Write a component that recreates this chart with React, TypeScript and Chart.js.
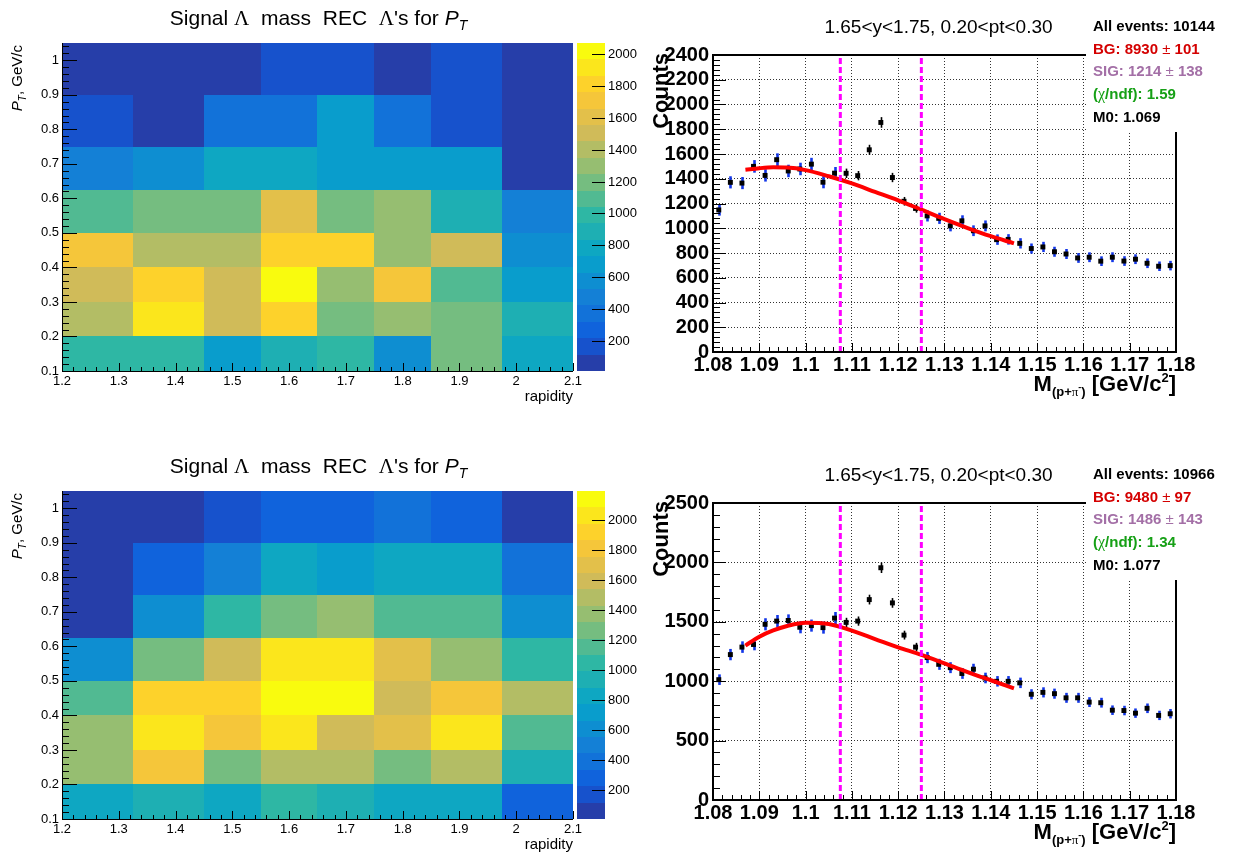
import React, { useEffect, useRef } from 'react';
import { Chart, registerables } from 'chart.js';
Chart.register(...registerables);

const SANS = '"Liberation Sans", Arial, Helvetica, sans-serif';
const SERIF = '"Liberation Serif", "DejaVu Serif", "Times New Roman", serif';
Chart.defaults.font.family = SANS;

// ---------------- heatmap data ----------------
const rapidityEdges = [1.2, 1.325, 1.45, 1.55, 1.65, 1.75, 1.85, 1.975, 2.1];
const ptEdges = [0.1, 0.2, 0.3, 0.4, 0.5, 0.625, 0.75, 0.9, 1.05];
const rapidityTicks = [1.2, 1.3, 1.4, 1.5, 1.6, 1.7, 1.8, 1.9, 2.0, 2.1];
const ptTicks = [0.1, 0.2, 0.3, 0.4, 0.5, 0.6, 0.7, 0.8, 0.9, 1.0];
const colorbarTicks = [200, 400, 600, 800, 1000, 1200, 1400, 1600, 1800, 2000];

// rows: pt bins (low -> high), columns: rapidity bins
const signalTop = [
  [989, 989, 680, 886, 989, 577, 1195, 783],
  [1401, 1916, 1504, 1813, 1195, 1298, 1195, 886],
  [1504, 1813, 1504, 2070, 1298, 1710, 1092, 680],
  [1710, 1401, 1401, 1813, 1813, 1298, 1504, 577],
  [1092, 1195, 1195, 1607, 1195, 1298, 886, 475],
  [475, 577, 783, 783, 680, 680, 680, 60],
  [165, 60, 370, 370, 680, 370, 165, 60],
  [60, 60, 60, 165, 165, 60, 165, 60],
];
const signalBottom = [
  [828, 937, 828, 1046, 937, 828, 828, 283],
  [1373, 1809, 1264, 1482, 1482, 1264, 1482, 937],
  [1373, 2027, 1809, 2027, 1591, 1700, 2027, 1155],
  [1155, 1918, 1918, 2190, 2150, 1591, 1809, 1482],
  [610, 1264, 1591, 2027, 2027, 1700, 1373, 1046],
  [65, 610, 1046, 1264, 1373, 1155, 1155, 610],
  [65, 283, 500, 828, 719, 828, 828, 392],
  [65, 65, 174, 283, 283, 392, 283, 65],
];
const zRangeTop = [10, 2070];
const zRangeBottom = [7, 2190];

// ---------------- invariant mass data ----------------
const massBins = [
  1.08125, 1.08375, 1.08625, 1.08875, 1.09125, 1.09375, 1.09625, 1.09875, 1.10125, 1.10375,
  1.10625, 1.10875, 1.11125, 1.11375, 1.11625, 1.11875, 1.12125, 1.12375, 1.12625, 1.12875,
  1.13125, 1.13375, 1.13625, 1.13875, 1.14125, 1.14375, 1.14625, 1.14875, 1.15125, 1.15375,
  1.15625, 1.15875, 1.16125, 1.16375, 1.16625, 1.16875, 1.17125, 1.17375, 1.17625, 1.17875,
];
const countsTop = [
  1148, 1371, 1365, 1500, 1427, 1554, 1463, 1479, 1518, 1372,
  1445, 1444, 1425, 1634, 1855, 1410, 1218, 1160, 1100, 1080,
  1019, 1060, 980, 1019, 908, 910, 878, 836, 849, 810,
  792, 760, 766, 734, 766, 735, 750, 717, 693, 698,
];
const countsBottom = [
  1013, 1224, 1287, 1309, 1479, 1506, 1511, 1454, 1468, 1451,
  1531, 1495, 1506, 1687, 1955, 1659, 1388, 1287, 1199, 1142,
  1114, 1065, 1101, 1027, 999, 999, 986, 890, 906, 895,
  860, 860, 824, 819, 756, 753, 731, 772, 712, 726,
];
const fitMass = [1.087, 1.09, 1.093, 1.096, 1.1, 1.105, 1.11, 1.115, 1.12, 1.125, 1.13, 1.135, 1.14, 1.145];
const fitTop = [1472, 1485, 1492, 1490, 1470, 1420, 1362, 1294, 1226, 1150, 1074, 1002, 936, 878];
const fitBottom = [1300, 1375, 1428, 1465, 1492, 1482, 1425, 1355, 1285, 1222, 1150, 1077, 1008, 940];
const massTicks = [1.08, 1.09, 1.1, 1.11, 1.12, 1.13, 1.14, 1.15, 1.16, 1.17, 1.18];
const countTicksTop = [0, 200, 400, 600, 800, 1000, 1200, 1400, 1600, 1800, 2000, 2200, 2400];
const countTicksBottom = [0, 500, 1000, 1500, 2000, 2500];
const windowLo = 1.1075;
const windowHi = 1.125;
const massTitle = '1.65<y<1.75, 0.20<pt<0.30';
const statsTop = { all: '10144', bg: '8930', bgErr: '101', sig: '1214', sigErr: '138', chi: '1.59', m0: '1.069' };
const statsBottom = { all: '10966', bg: '9480', bgErr: '97', sig: '1486', sigErr: '143', chi: '1.34', m0: '1.077' };

// ---------------- helpers ----------------
type Seg = { t: string; f: string; dy?: number; c?: string };
function richWidth(ctx: CanvasRenderingContext2D, segs: Seg[]) {
  let w = 0;
  for (const s of segs) { ctx.font = s.f; w += ctx.measureText(s.t).width; }
  return w;
}
function drawRich(ctx: CanvasRenderingContext2D, segs: Seg[], x: number, y: number, align: 'left' | 'center' | 'right') {
  const w = richWidth(ctx, segs);
  let cx = align === 'left' ? x : align === 'center' ? x - w / 2 : x - w;
  ctx.textAlign = 'left';
  ctx.textBaseline = 'alphabetic';
  for (const s of segs) {
    ctx.font = s.f;
    ctx.fillStyle = s.c || '#000';
    ctx.fillText(s.t, cx, y + (s.dy || 0));
    cx += ctx.measureText(s.t).width;
  }
}
function line(ctx: CanvasRenderingContext2D, x0: number, y0: number, x1: number, y1: number) {
  ctx.beginPath(); ctx.moveTo(x0, y0); ctx.lineTo(x1, y1); ctx.stroke();
}
const fmt = (v: any) => String(+Number(v).toFixed(3));

const birdStops = [0, 0.125, 0.25, 0.375, 0.5, 0.625, 0.75, 0.875, 1];
const birdR = [0.2082, 0.0592, 0.0780, 0.0232, 0.1802, 0.5301, 0.8186, 0.9956, 0.9764];
const birdG = [0.1664, 0.3599, 0.5041, 0.6419, 0.7178, 0.7492, 0.7328, 0.7862, 0.9832];
const birdB = [0.5293, 0.8684, 0.8385, 0.7914, 0.6425, 0.4662, 0.3499, 0.1968, 0.0539];
function bird(f: number) {
  f = Math.max(0, Math.min(1, f));
  let i = 0;
  while (i < 7 && f > birdStops[i + 1]) i++;
  const t = (f - birdStops[i]) / (birdStops[i + 1] - birdStops[i]);
  const ch = (a: number[]) => Math.round(255 * (a[i] + (a[i + 1] - a[i]) * t));
  return `rgb(${ch(birdR)},${ch(birdG)},${ch(birdB)})`;
}
const NLEVELS = 20;
function levelColor(v: number, zmin: number, zmax: number) {
  let b = Math.floor(((v - zmin) / (zmax - zmin)) * NLEVELS);
  b = Math.max(0, Math.min(NLEVELS - 1, b));
  return bird((b + 0.99) / NLEVELS);
}

// ---------------- heatmap panel ----------------
function HeatPanel({ top, values, zr }: { top: number; values: number[][]; zr: number[] }) {
  const ref = useRef<HTMLCanvasElement>(null);
  useEffect(() => {
    const [zmin, zmax] = zr;
    const cells: any[] = [];
    values.forEach((row, r) =>
      row.forEach((v, c) =>
        cells.push({
          x: (rapidityEdges[c] + rapidityEdges[c + 1]) / 2,
          y: (ptEdges[r] + ptEdges[r + 1]) / 2,
          v, x0: rapidityEdges[c], x1: rapidityEdges[c + 1], y0: ptEdges[r], y1: ptEdges[r + 1],
        })
      )
    );
    const plugin = {
      id: 'heatCells',
      beforeDatasetsDraw(chart: any) {
        const { ctx, scales: { x, y } } = chart;
        ctx.save();
        for (const c of chart.data.datasets[0].data) {
          const px0 = Math.round(x.getPixelForValue(c.x0));
          const px1 = Math.round(x.getPixelForValue(c.x1));
          const py0 = Math.round(y.getPixelForValue(c.y0));
          const py1 = Math.round(y.getPixelForValue(c.y1));
          ctx.fillStyle = levelColor(c.v, zmin, zmax);
          ctx.fillRect(px0, py1, px1 - px0, py0 - py1);
        }
        ctx.restore();
      },
      afterDraw(chart: any) {
        const { ctx, chartArea: a, scales: { x, y } } = chart;
        ctx.save();
        ctx.strokeStyle = '#000';
        ctx.lineWidth = 1;
        line(ctx, a.left + 0.5, a.top, a.left + 0.5, a.bottom + 0.5);
        line(ctx, a.left, a.bottom + 0.5, a.right, a.bottom + 0.5);
        for (let k = 10; k <= 105; k += 2) {
          const py = Math.round(y.getPixelForValue(k / 100)) + 0.5;
          line(ctx, a.left, py, a.left + (k % 10 === 0 ? 15 : 7), py);
        }
        for (let k = 120; k <= 210; k += 2) {
          const px = Math.round(x.getPixelForValue(k / 100)) + 0.5;
          line(ctx, px, a.bottom, px, a.bottom - (k % 10 === 0 ? 8 : 4));
        }
        // color bar
        const cbL = a.right + 4, cbR = a.right + 32;
        const H = a.bottom - a.top;
        for (let b = 0; b < NLEVELS; b++) {
          const yb = a.bottom - (b / NLEVELS) * H;
          const yt = a.bottom - ((b + 1) / NLEVELS) * H;
          ctx.fillStyle = bird((b + 0.99) / NLEVELS);
          ctx.fillRect(cbL, Math.round(yt), cbR - cbL, Math.round(yb) - Math.round(yt));
        }
        ctx.fillStyle = '#000';
        ctx.font = `13px ${SANS}`;
        ctx.textAlign = 'left';
        ctx.textBaseline = 'middle';
        for (const t of colorbarTicks) {
          const py = Math.round(a.bottom - ((t - zmin) / (zmax - zmin)) * H) + 0.5;
          line(ctx, cbR - 13, py, cbR, py);
          ctx.fillText(String(t), cbR + 3, py);
        }
        // title
        const F = `21px ${SANS}`;
        drawRich(ctx, [
          { t: 'Signal ', f: F },
          { t: 'Λ', f: `21px ${SERIF}` },
          { t: '  mass  REC  ', f: F },
          { t: 'Λ', f: `21px ${SERIF}` },
          { t: "'s for ", f: F },
          { t: 'P', f: `italic 21px ${SANS}` },
          { t: 'T', f: `italic 14px ${SANS}`, dy: 5 },
        ], 318.5, 25, 'center');
        // x title
        drawRich(ctx, [{ t: 'rapidity', f: `15px ${SANS}` }], a.right, 401, 'right');
        // y title
        ctx.translate(22, a.top + 2);
        ctx.rotate(-Math.PI / 2);
        drawRich(ctx, [
          { t: 'P', f: `italic 15px ${SANS}` },
          { t: 'T', f: `italic 10px ${SANS}`, dy: 4 },
          { t: ', GeV/c', f: `15px ${SANS}` },
        ], 0, 0, 'right');
        ctx.restore();
      },
    };
    const tickFont = { family: SANS, size: 13 };
    const chart = new Chart(ref.current as HTMLCanvasElement, {
      type: 'scatter',
      data: { datasets: [{ data: cells, pointRadius: 0, pointHoverRadius: 0 }] },
      options: {
        animation: false,
        responsive: false,
        events: [],
        layout: { padding: { left: 0, top: 43, right: 87, bottom: 0 } },
        plugins: { legend: { display: false }, tooltip: { enabled: false } },
        scales: {
          x: {
            type: 'linear', min: 1.2, max: 2.1,
            afterBuildTicks: (s: any) => { s.ticks = rapidityTicks.map((v) => ({ value: v })); },
            afterFit: (s: any) => { s.height = 37; },
            ticks: { autoSkip: false, maxRotation: 0, minRotation: 0, padding: 3, color: '#000', font: tickFont, callback: fmt },
            grid: { display: false, drawTicks: false },
            border: { display: false },
          },
          y: {
            type: 'linear', min: 0.1, max: 1.05,
            afterBuildTicks: (s: any) => { s.ticks = ptTicks.map((v) => ({ value: v })); },
            afterFit: (s: any) => { s.width = 62; },
            ticks: { autoSkip: false, padding: 3, color: '#000', font: tickFont, callback: fmt },
            grid: { display: false, drawTicks: false },
            border: { display: false },
          },
        },
      } as any,
      plugins: [plugin],
    });
    return () => chart.destroy();
  }, [values, zr]);
  return <canvas ref={ref} width={660} height={408} style={{ position: 'absolute', left: 0, top }} />;
}

// ---------------- mass panel ----------------
function MassPanel({ top, counts, fit, yTicks, yMinor, stats }: any) {
  const ref = useRef<HTMLCanvasElement>(null);
  useEffect(() => {
    const yMax = yTicks[yTicks.length - 1];
    const yStep = yTicks[1] - yTicks[0];
    const pts = massBins.map((m, i) => ({ x: m, y: counts[i] }));
    const fitPts = fitMass.map((m, i) => ({ x: m, y: fit[i] }));
    const plugin = {
      id: 'rootMass',
      beforeDatasetDraw(chart: any, args: any) {
        if (args.index !== 3) return;
        const { ctx } = chart;
        const ys = chart.scales.y;
        const meta = chart.getDatasetMeta(3);
        ctx.save();
        meta.data.forEach((el: any, i: number) => {
          const v = counts[i];
          const e = Math.sqrt(v);
          const m = massBins[i];
          const inside = m > windowLo && m < windowHi;
          const y0 = ys.getPixelForValue(v - e);
          const y1 = ys.getPixelForValue(v + e);
          const px = Math.round(el.x) + 0.5;
          if (!inside) {
            ctx.strokeStyle = '#1236e8';
            ctx.lineWidth = 2.6;
            line(ctx, px, y0 + 1.5, px, y1 - 1.5);
          } else {
            ctx.strokeStyle = '#000';
            ctx.lineWidth = 1.6;
            line(ctx, px, y0, px, y1);
          }
        });
        ctx.restore();
      },
      afterDraw(chart: any) {
        const { ctx, chartArea: a, scales: { x, y } } = chart;
        ctx.save();
        ctx.strokeStyle = '#000';
        ctx.lineWidth = 1;
        for (let k = 1080; k <= 1180; k += 2) {
          const px = Math.round(x.getPixelForValue(k / 1000)) + 0.5;
          line(ctx, px, a.bottom, px, a.bottom - (k % 10 === 0 ? 9 : 5));
        }
        for (let v = 0; v <= yMax; v += yMinor) {
          const py = Math.round(y.getPixelForValue(v)) + 0.5;
          line(ctx, a.left, py, a.left + (v % yStep === 0 ? 13 : 7), py);
        }
        ctx.lineWidth = 2;
        ctx.strokeRect(a.left, a.top, a.right - a.left, a.bottom - a.top);
        // stats box
        ctx.fillStyle = '#fff';
        ctx.fillRect(466, 0, 632 - 466, 132);
        // title
        drawRich(ctx, [{ t: massTitle, f: `19px ${SANS}` }], 318.5, 33, 'center');
        const SB = `bold 15px ${SANS}`;
        const SN = `15px ${SANS}`;
        drawRich(ctx, [{ t: 'All events: ' + stats.all, f: SB }], 473, 31, 'left');
        drawRich(ctx, [
          { t: 'BG: ' + stats.bg + ' ', f: SB, c: '#d40000' },
          { t: '±', f: SN, c: '#d40000' },
          { t: ' ' + stats.bgErr, f: SB, c: '#d40000' },
        ], 473, 53.5, 'left');
        drawRich(ctx, [
          { t: 'SIG: ' + stats.sig + ' ', f: SB, c: '#a36fa6' },
          { t: '±', f: SN, c: '#a36fa6' },
          { t: ' ' + stats.sigErr, f: SB, c: '#a36fa6' },
        ], 473, 76, 'left');
        drawRich(ctx, [
          { t: '(', f: SB, c: '#16a016' },
          { t: 'χ', f: `16px ${SERIF}`, c: '#16a016' },
          { t: '/ndf): ' + stats.chi, f: SB, c: '#16a016' },
        ], 473, 99, 'left');
        drawRich(ctx, [{ t: 'M0: ' + stats.m0, f: SB }], 473, 122, 'left');
        // y title
        ctx.save();
        ctx.translate(48, a.top - 2);
        ctx.rotate(-Math.PI / 2);
        drawRich(ctx, [{ t: 'Counts', f: `bold 22px ${SANS}` }], 0, 0, 'right');
        ctx.restore();
        // x title
        const XB = `bold 22px ${SANS}`;
        drawRich(ctx, [
          { t: 'M', f: XB },
          { t: '(p+', f: `bold 13px ${SANS}`, dy: 5 },
          { t: 'π', f: `13px ${SERIF}`, dy: 5 },
          { t: '-', f: `bold 9px ${SANS}`, dy: -1 },
          { t: ')', f: `bold 13px ${SANS}`, dy: 5 },
          { t: ' [GeV/c', f: XB },
          { t: '2', f: `bold 13px ${SANS}`, dy: -9 },
          { t: ']', f: XB },
        ], a.right, 391, 'right');
        ctx.restore();
      },
    };
    const bold20 = { family: SANS, size: 20, weight: 'bold' as const };
    const gridOpts = { color: 'rgba(0,0,0,0.8)', lineWidth: 1, drawTicks: false };
    const chart = new Chart(ref.current as HTMLCanvasElement, {
      type: 'scatter',
      data: {
        datasets: [
          { type: 'line', data: [{ x: windowLo, y: 0 }, { x: windowLo, y: yMax }], borderColor: '#ff00ff', borderWidth: 3, borderDash: [6, 3], pointRadius: 0, order: 0 },
          { type: 'line', data: [{ x: windowHi, y: 0 }, { x: windowHi, y: yMax }], borderColor: '#ff00ff', borderWidth: 3, borderDash: [6, 3], pointRadius: 0, order: 0 },
          { type: 'line', data: fitPts, borderColor: '#ff0000', borderWidth: 4, pointRadius: 0, cubicInterpolationMode: 'monotone', order: 1 },
          { type: 'scatter', data: pts, pointStyle: 'rect', pointRadius: 3.5, backgroundColor: '#000', borderColor: '#000', borderWidth: 0, order: 2 },
        ],
      } as any,
      options: {
        animation: false,
        responsive: false,
        events: [],
        layout: { padding: { left: 0, top: 55, right: 76, bottom: 0 } },
        plugins: { legend: { display: false }, tooltip: { enabled: false } },
        scales: {
          x: {
            type: 'linear', min: 1.08, max: 1.18,
            afterBuildTicks: (s: any) => { s.ticks = massTicks.map((v) => ({ value: v })); },
            afterFit: (s: any) => { s.height = 56; },
            ticks: { autoSkip: false, maxRotation: 0, minRotation: 0, padding: 1, color: '#000', font: bold20, callback: fmt },
            grid: gridOpts,
            border: { display: false, dash: [1, 2] },
          },
          y: {
            type: 'linear', min: 0, max: yMax,
            afterBuildTicks: (s: any) => { s.ticks = yTicks.map((v: number) => ({ value: v })); },
            afterFit: (s: any) => { s.width = 93; },
            ticks: { autoSkip: false, padding: 4, color: '#000', font: bold20, callback: fmt },
            grid: gridOpts,
            border: { display: false, dash: [1, 2] },
          },
        },
      } as any,
      plugins: [plugin],
    });
    return () => chart.destroy();
  }, [counts, fit, yTicks, yMinor, stats]);
  return <canvas ref={ref} width={632} height={408} style={{ position: 'absolute', left: 620, top }} />;
}

export default function App() {
  return (
    <div style={{ position: 'fixed', left: 0, top: 0, width: 1252, height: 856, background: '#fff', overflow: 'hidden' }}>
      <HeatPanel top={0} values={signalTop} zr={zRangeTop} />
      <HeatPanel top={448} values={signalBottom} zr={zRangeBottom} />
      <MassPanel top={0} counts={countsTop} fit={fitTop} yTicks={countTicksTop} yMinor={40} stats={statsTop} />
      <MassPanel top={448} counts={countsBottom} fit={fitBottom} yTicks={countTicksBottom} yMinor={100} stats={statsBottom} />
    </div>
  );
}
